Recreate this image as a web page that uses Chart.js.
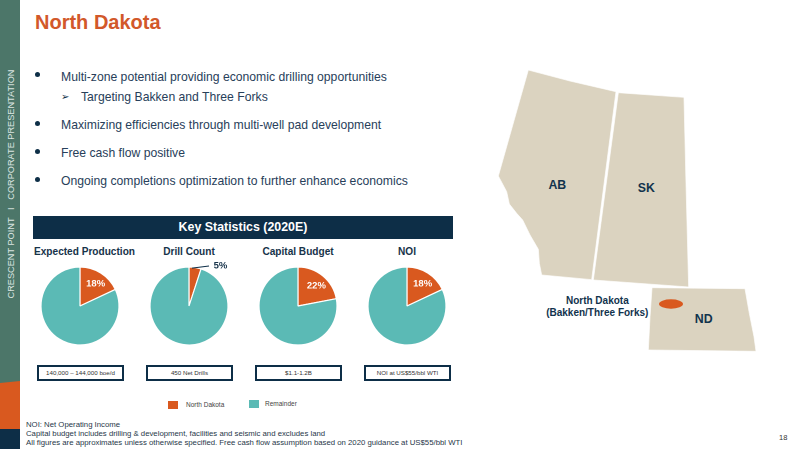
<!DOCTYPE html>
<html>
<head>
<meta charset="utf-8">
<title>North Dakota</title>
<script src="https://cdn.jsdelivr.net/npm/chart.js@4"></script>
<style>
  html, body { margin: 0; padding: 0; background: #fff; }
  body { width: 800px; height: 450px; position: relative; overflow: hidden; font-family: "Liberation Sans", Arial, sans-serif; color: #1c3850; }
  .abs { position: absolute; white-space: nowrap; }
  #side { position: absolute; left: 0; top: 0; width: 20px; height: 449px; }
  #sideText { left: 11px; top: 183.5px; transform: translate(-50%, -50%) rotate(-90deg); font-size: 9.2px; color: #dbe5e1; white-space: pre; }
  #title { left: 35px; top: 11px; font-size: 20px; font-weight: bold; color: #d2582a; }
  .bullet { font-size: 12.2px; left: 61px; line-height: 14px; color: #28405a; }
  .dot { left: 35px; width: 5px; height: 5px; border-radius: 50%; background: #0e2f47; }
  #band { left: 33px; top: 216px; width: 420px; height: 23px; background: #0d2e47; color: #fff; font-weight: bold; font-size: 12.4px; line-height: 23px; text-align: center; }
  .pieTitle { top: 246px; width: 110px; margin-left: -55px; text-align: center; font-size: 10.1px; line-height: 12px; font-weight: bold; color: #17334a; }
  canvas.pie { position: absolute; top: 256px; width: 110px; height: 100px; margin-left: -55px; }
  .note { top: 365px; width: 83px; height: 12px; border: 2px solid #0d2e47; text-align: center; font-size: 6.2px; line-height: 12px; color: #333; }
  .swatch { width: 10px; height: 8px; }
  .legendText { font-size: 6.5px; line-height: 8px; color: #444; }
  .foot { left: 26px; font-size: 7.78px; line-height: 9px; color: #28384a; }
  #page { left: 779px; top: 433px; font-size: 7.5px; color: #333; }
  #map { position: absolute; left: 480px; top: 50px; }
  #map text { font-family: "Liberation Sans", Arial, sans-serif; font-weight: bold; fill: #12334d; text-anchor: middle; }
</style>
</head>
<body>

<svg id="side" viewBox="0 0 20 449">
  <rect x="0" y="0" width="20" height="384" fill="#4c7669"/>
  <polygon points="0,383 20,381 20,430 0,430" fill="#d9591f"/>
  <rect x="0" y="429" width="20" height="20" fill="#0d2e47"/>
</svg>
<div id="sideText" class="abs">CRESCENT POINT   I   CORPORATE PRESENTATION</div>

<div id="title" class="abs">North Dakota</div>

<div class="abs dot" style="top:72px"></div>
<div class="abs bullet" style="top:70px">Multi-zone potential providing economic drilling opportunities</div>
<div class="abs bullet" style="left:61px;top:90px;font-family:'DejaVu Sans';font-size:10px;color:#0e2f47">&#10146;</div>
<div class="abs bullet" style="left:81px;top:90px">Targeting Bakken and Three Forks</div>
<div class="abs dot" style="top:121px"></div>
<div class="abs bullet" style="top:118px">Maximizing efficiencies through multi-well pad development</div>
<div class="abs dot" style="top:149px"></div>
<div class="abs bullet" style="top:146px">Free cash flow positive</div>
<div class="abs dot" style="top:177px"></div>
<div class="abs bullet" style="top:174px">Ongoing completions optimization to further enhance economics</div>

<div id="band" class="abs">Key Statistics (2020E)</div>

<div id="titles"></div>
<canvas class="pie" id="pie0" width="110" height="100" style="left:80px"></canvas>
<canvas class="pie" id="pie1" width="110" height="100" style="left:189px"></canvas>
<canvas class="pie" id="pie2" width="110" height="100" style="left:298px"></canvas>
<canvas class="pie" id="pie3" width="110" height="100" style="left:407px"></canvas>
<div id="notes"></div>

<div class="abs swatch" style="left:168px;top:401px;background:#d9591f"></div>
<div class="abs legendText" id="legend0" style="left:186px;top:401px"></div>
<div class="abs swatch" style="left:249px;top:400px;background:#5bbab5"></div>
<div class="abs legendText" id="legend1" style="left:265px;top:400px"></div>

<div class="abs foot" style="top:420px">NOI: Net Operating Income</div>
<div class="abs foot" style="top:429px">Capital budget includes drilling &amp; development, facilities and seismic and excludes land</div>
<div class="abs foot" style="top:438px">All figures are approximates unless otherwise specified. Free cash flow assumption based on 2020 guidance at US$55/bbl WTI</div>
<div id="page" class="abs">18</div>

<svg id="map" width="320" height="320" viewBox="0 0 960 960">
  <g fill="#dbd3c0" stroke="#fff" stroke-width="2">
    <path d="M145,60 L270,93 L408,125 L335,689 L185,675 L178,640 L175,598 L150,555 L128,510 L110,490 L88,462 L80,425 L55,378 Z"/>
    <path d="M415,128 L612,142 L618,400 L626,711 L340,690 Z"/>
    <path d="M516,713 L795,716 L808,790 L822,860 L828,904 L505,900 L510,800 Z"/>
  </g>
  <ellipse cx="573" cy="762" rx="36" ry="14" fill="#d9591f"/>
  <text x="232" y="416" font-size="37">AB</text>
  <text x="499" y="427" font-size="37">SK</text>
  <text x="671" y="818" font-size="37">ND</text>
  <text x="352" y="762" font-size="30">North Dakota</text>
  <text x="352" y="798" font-size="30">(Bakken/Three Forks)</text>
</svg>

<script>
const pieTitles = ['Expected Production', 'Drill Count', 'Capital Budget', 'NOI'];
const northDakota = [18, 5, 22, 18];
const remainder = [82, 95, 78, 82];
const pieNotes = ['140,000 \u2013 144,000 boe/d', '450 Net Drills', '$1.1-1.2B', 'NOI at US$55/bbl WTI'];
const legendLabels = ['North Dakota', 'Remainder'];

const orange = '#d9591f';
const teal = '#5bbab5';
const titleCenters = [84.5, 189, 298, 407];
const noteLefts = [37, 146, 255, 364];

// percent label on the orange slice, small slices get a leader line instead
const sliceLabel = {
    id: 'sliceLabel',
    afterDraw(chart) {
        const arc = chart.getDatasetMeta(0).data[0];
        const value = chart.data.datasets[0].data[0];
        const { x, y, startAngle, endAngle, outerRadius } = arc.getProps(['x', 'y', 'startAngle', 'endAngle', 'outerRadius'], true);
        const mid = (startAngle + endAngle) / 2;
        const ctx = chart.ctx;
        ctx.save();
        ctx.font = 'bold 9.5px "Liberation Sans", Arial, sans-serif';
        ctx.textAlign = 'center';
        ctx.textBaseline = 'middle';
        if (value < 10) {
            ctx.strokeStyle = '#0d2e47';
            ctx.lineWidth = 1;
            ctx.beginPath();
            ctx.moveTo(x + 3, y - outerRadius * 0.97);
            ctx.lineTo(x + 20, y - outerRadius - 1);
            ctx.stroke();
            ctx.fillStyle = '#17334a';
            ctx.fillText(value + '%', x + 31.5, y - outerRadius - 1);
        } else {
            ctx.fillStyle = '#fff';
            ctx.fillText(value + '%', x + Math.cos(mid) * outerRadius * 0.7 + 1, y + Math.sin(mid) * outerRadius * 0.7 + 1);
        }
        ctx.restore();
    }
};

pieTitles.forEach(function (title, i) {
    const head = document.createElement('div');
    head.className = 'abs pieTitle';
    head.style.left = titleCenters[i] + 'px';
    head.textContent = title;
    document.getElementById('titles').appendChild(head);

    const note = document.createElement('div');
    note.className = 'abs note';
    note.style.left = noteLefts[i] + 'px';
    note.textContent = pieNotes[i];
    document.getElementById('notes').appendChild(note);

    new Chart(document.getElementById('pie' + i), {
        type: 'pie',
        data: {
            labels: legendLabels,
            datasets: [{
                data: [northDakota[i], remainder[i]],
                backgroundColor: [orange, teal],
                borderColor: '#fff',
                borderWidth: 1.2,
                radius: 39
            }]
        },
        options: {
            responsive: false,
            animation: false,
            devicePixelRatio: 2,
            plugins: { legend: { display: false }, tooltip: { enabled: false } }
        },
        plugins: [sliceLabel]
    });
});

document.getElementById('legend0').textContent = legendLabels[0];
document.getElementById('legend1').textContent = legendLabels[1];
</script>
</body>
</html>
